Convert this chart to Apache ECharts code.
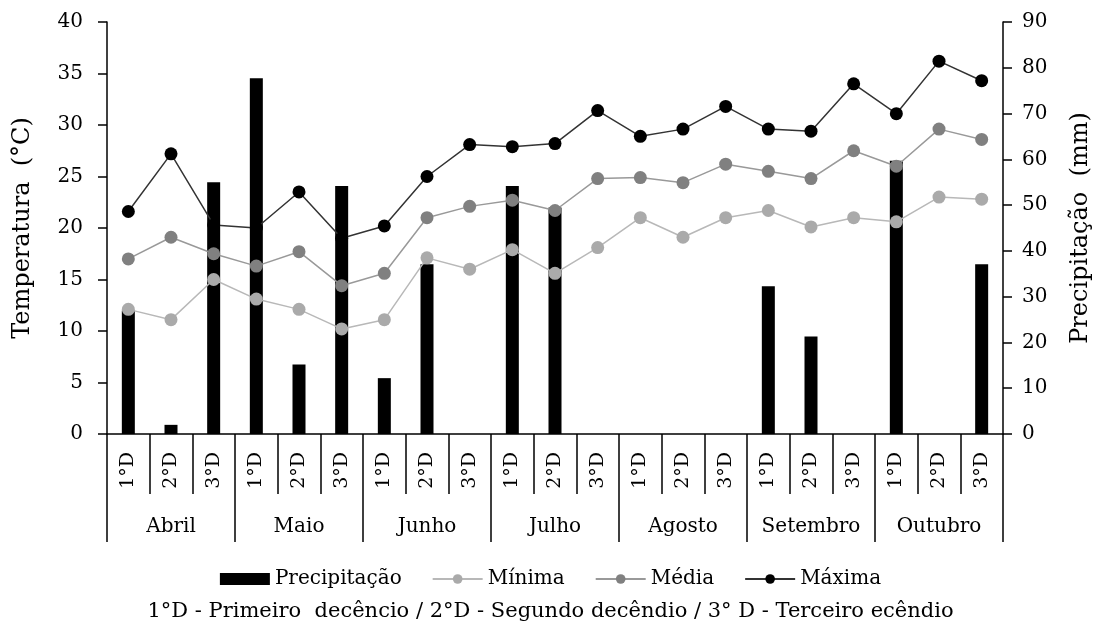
<!DOCTYPE html>
<html>
<head>
<meta charset="utf-8">
<script src="https://cdn.jsdelivr.net/npm/echarts@6/dist/echarts.min.js"></script>
<style>
  html, body { margin: 0; padding: 0; background: #fff; }
  #chart { width: 1101px; height: 633px; }
</style>
</head>
<body>
<div id="chart"></div>
<script>
  // decendios per month
  const decendios = ['1°D', '2°D', '3°D', '1°D', '2°D', '3°D', '1°D', '2°D', '3°D', '1°D', '2°D', '3°D',
    '1°D', '2°D', '3°D', '1°D', '2°D', '3°D', '1°D', '2°D', '3°D'];
  const months = ['Abril', 'Maio', 'Junho', 'Julho', 'Agosto', 'Setembro', 'Outubro'];

  // precipitation (mm) - right axis
  const precipitacao = [27, 2, 55, 77.7, 15.2, 54.2, 12.2, 37.1, 0, 54.2, 49.5, 0, 0, 0, 0, 32.3, 21.3, 0, 59.7, 0, 37.1];
  // temperatures (°C) - left axis
  const minima = [12.1, 11.1, 15.0, 13.1, 12.1, 10.2, 11.1, 17.1, 16.0, 17.9, 15.6, 18.1, 21.0, 19.1, 21.0, 21.7, 20.1, 21.0, 20.6, 23.0, 22.8];
  const media = [17.0, 19.1, 17.5, 16.3, 17.7, 14.4, 15.6, 21.0, 22.1, 22.7, 21.7, 24.8, 24.9, 24.4, 26.2, 25.5, 24.8, 27.5, 26.0, 29.6, 28.6];
  const maxima = [21.6, 27.2, 20.3, 20.0, 23.5, 19.0, 20.2, 25.0, 28.1, 27.9, 28.2, 31.4, 28.9, 29.6, 31.8, 29.6, 29.4, 34.0, 31.1, 36.2, 34.3];

  // wide serif, the original text looks stretched
  const FONT = '"DejaVu Serif", "Liberation Serif", serif';

  const chart = echarts.init(document.getElementById('chart'));

  const lineSeries = (name, data, lineColor, dotColor) => ({
    name: name,
    type: 'line',
    yAxisIndex: 0,
    data: data,
    symbol: 'circle',
    symbolSize: 13,
    lineStyle: { color: lineColor, width: 1.5 },
    itemStyle: { color: dotColor },
    z: 3
  });

  const option = {
    animation: false,
    textStyle: { fontFamily: FONT, color: '#000' },
    grid: { left: 107, right: 98, top: 22, bottom: 199 },
    legend: {
      left: 'center',
      top: 564,
      itemWidth: 50,
      itemHeight: 12,
      itemGap: 30,
      textStyle: { fontFamily: FONT, fontSize: 20, color: '#000' },
      data: [
        { name: 'Precipitação', icon: 'rect' },
        'Mínima', 'Média', 'Máxima'
      ]
    },
    xAxis: [
      {
        type: 'category',
        data: decendios,
        axisLine: { lineStyle: { color: '#000', width: 1.5 } },
        axisTick: { show: true, interval: 0, length: 60, lineStyle: { color: '#000', width: 1.5 } },
        axisLabel: { interval: 0, rotate: 90, margin: 18, fontSize: 19, color: '#000', fontFamily: FONT }
      },
      {
        type: 'category',
        data: months,
        position: 'bottom',
        axisLine: { show: false },
        axisTick: { show: true, interval: 0, length: 108, lineStyle: { color: '#000', width: 1.5 } },
        axisLabel: { interval: 0, margin: 83, fontSize: 20, color: '#000', fontFamily: FONT }
      }
    ],
    yAxis: [
      {
        type: 'value',
        min: 0,
        max: 40,
        interval: 5,
        name: 'Temperatura  (°C)',
        nameLocation: 'middle',
        nameGap: 72,
        nameTextStyle: { fontSize: 24, fontFamily: FONT, color: '#000' },
        axisLine: { show: true, lineStyle: { color: '#000', width: 1.5 } },
        axisTick: { show: true, length: 9, lineStyle: { color: '#000', width: 1.5 } },
        axisLabel: { fontSize: 20, color: '#000', fontFamily: FONT, margin: 24 },
        splitLine: { show: false }
      },
      {
        type: 'value',
        min: 0,
        max: 90,
        interval: 10,
        name: 'Precipitação  (mm)',
        nameLocation: 'middle',
        nameGap: 66,
        nameTextStyle: { fontSize: 24, fontFamily: FONT, color: '#000' },
        axisLine: { show: true, lineStyle: { color: '#000', width: 1.5 } },
        axisTick: { show: true, length: 9, lineStyle: { color: '#000', width: 1.5 } },
        axisLabel: { fontSize: 20, color: '#000', fontFamily: FONT, margin: 19 },
        splitLine: { show: false }
      }
    ],
    graphic: [
      {
        type: 'text',
        left: 'center',
        top: 601,
        style: {
          text: '1°D - Primeiro  decêncio / 2°D - Segundo decêndio / 3° D - Terceiro ecêndio',
          font: '21px ' + FONT,
          fill: '#000'
        }
      }
    ],
    series: [
      {
        name: 'Precipitação',
        type: 'bar',
        yAxisIndex: 1,
        data: precipitacao,
        barWidth: 13,
        itemStyle: { color: '#000' },
        z: 2
      },
      lineSeries('Mínima', minima, '#b8b8b8', '#aaaaaa'),
      lineSeries('Média', media, '#999999', '#808080'),
      lineSeries('Máxima', maxima, '#333333', '#000000')
    ]
  };

  chart.setOption(option);
</script>
</body>
</html>
